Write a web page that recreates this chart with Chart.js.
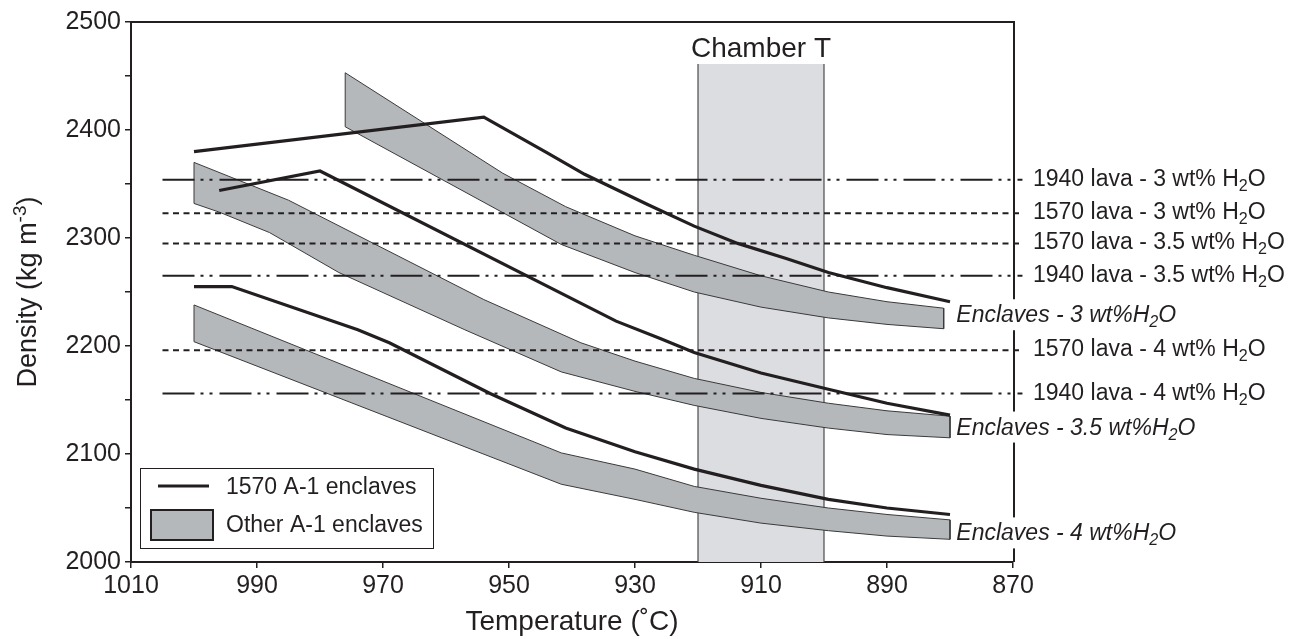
<!DOCTYPE html>
<html>
<head>
<meta charset="utf-8">
<script src="https://cdn.jsdelivr.net/npm/chart.js@4.4.1/dist/chart.umd.min.js"></script>
<style>
  html, body { margin: 0; padding: 0; background: #fff; }
  canvas { display: block; }
</style>
</head>
<body>
<canvas id="chart" width="1301" height="639"></canvas>
<script>
// ---- data (temperature in °C, density in kg/m3) ----
var xTicks = [1010, 990, 970, 950, 930, 910, 890, 870];
var yTicks = [2000, 2100, 2200, 2300, 2400, 2500];

// chamber temperature range
var chamberT = [920, 900];
var chamberTop = 2461;

// 1570 A-1 enclaves (black lines)
var line3wt  = [[1000,2380],[954,2412],[944,2379],[938,2359],[928,2331],[920.6,2311],[913.7,2295],[906,2281],[899.3,2268],[890,2254],[880,2241]];
var line35wt = [[996,2344],[980,2362],[933,2223],[926,2207],[920.6,2194],[910,2175],[899.3,2160],[890,2147],[880,2136]];
var line4wt  = [[1000,2255],[994,2255],[974,2215],[969,2203],[953,2156],[941,2124],[930,2102],[920.6,2086],[910,2071],[899.3,2058],[890,2050],[880,2044]];

// other A-1 enclaves (grey bands: upper and lower edge)
var band3wtUpper  = [[976,2453],[951,2360],[941,2329],[930,2302],[920.6,2284],[910,2265],[899.3,2250],[890,2241],[881,2235]];
var band3wtLower  = [[976,2403],[941.7,2294],[930,2268],[920.6,2250],[910,2236],[899.3,2226],[890,2220],[881,2216]];
var band35wtUpper = [[1000,2370],[985,2335],[954,2243],[938.6,2203],[930,2186],[920.6,2170],[910,2157],[899.3,2147],[890,2140],[880,2135]];
var band35wtLower = [[1000,2332],[996,2324],[988,2305],[977,2268],[957,2215],[941.7,2176],[930,2158],[920.6,2145],[910,2133],[899.3,2124],[890,2118],[880,2115]];
var band4wtUpper  = [[1000,2238],[941.7,2101],[930,2086],[920.6,2070],[910,2059],[899.3,2050],[890,2044],[880,2039]];
var band4wtLower  = [[1000,2204],[941.7,2072],[930,2058],[920.6,2046],[910,2036],[899.3,2029],[890,2024],[880,2021]];

// lava densities (horizontal reference lines)
var lavaNames  = ['1940 lava - 3 wt%', '1570 lava - 3 wt%', '1570 lava - 3.5 wt%', '1940 lava - 3.5 wt%', '1570 lava - 4 wt%', '1940 lava - 4 wt%'];
var lavaValues = [2354, 2323, 2295, 2265, 2196, 2156];
var lavaFrom = 1005, lavaTo = 868.5;

var enclaveNames  = ['Enclaves - 3 wt%', 'Enclaves - 3.5 wt%', 'Enclaves - 4 wt%'];
var enclaveLabelD = [2222, 2118, 2020];
var enclaveLabelT = 879;

var legendNames = ['1570 A-1 enclaves', 'Other A-1 enclaves'];

var ink = '#231f20';
var bandGrey = '#b5b8bb';
var chamberGrey = '#dcdde0';
var FONT = "'Liberation Sans', Arial, Helvetica, sans-serif";

function pts(list) {
  return list.map(function (p) { return { x: p[0], y: p[1] }; });
}

function bandSet(upper, lower) {
  var poly = upper.concat(lower.slice().reverse());
  poly.push(upper[0]);
  return {
    data: pts(poly), fill: 'shape', backgroundColor: bandGrey,
    borderColor: '#3a3a3a', borderWidth: 1, pointRadius: 0, order: 3
  };
}

function enclaveSet(list) {
  return {
    data: pts(list), fill: false, borderColor: ink, borderWidth: 3.2,
    pointRadius: 0, borderJoinStyle: 'miter', order: 2
  };
}

var datasets = [];

// chamber T box: grey fill, then its two vertical sides
datasets.push({
  data: [{x: chamberT[0], y: 2000}, {x: chamberT[0], y: chamberTop}, {x: chamberT[1], y: chamberTop}, {x: chamberT[1], y: 2000}],
  fill: 'shape', backgroundColor: chamberGrey, borderWidth: 0, borderColor: 'rgba(0,0,0,0)', pointRadius: 0, order: 6
});
chamberT.forEach(function (t) {
  datasets.push({
    data: [{x: t, y: 2000}, {x: t, y: chamberTop}],
    fill: false, borderColor: '#4a4a4a', borderWidth: 1.2, pointRadius: 0, order: 5
  });
});

datasets.push(bandSet(band3wtUpper, band3wtLower));
datasets.push(bandSet(band35wtUpper, band35wtLower));
datasets.push(bandSet(band4wtUpper, band4wtLower));
datasets.push(enclaveSet(line3wt));
datasets.push(enclaveSet(line35wt));
datasets.push(enclaveSet(line4wt));

lavaValues.forEach(function (v, i) {
  var is1940 = lavaNames[i].indexOf('1940') === 0;
  datasets.push({
    data: [{x: lavaFrom, y: v}, {x: lavaTo, y: v}],
    fill: false, borderColor: ink, borderWidth: 2, pointRadius: 0,
    borderDash: is1940 ? [32, 6, 3, 6, 3, 7] : [6, 4.5],
    clip: false, order: 1
  });
});

// draw text containing a subscript/superscript part
function richText(ctx, x, y, parts, size, style) {
  var cx = x;
  parts.forEach(function (p) {
    var s = p[1] ? size * 0.7 : size;
    ctx.font = style + s + 'px ' + FONT;
    var dy = p[1] === 'sub' ? size * 0.22 : (p[1] === 'sup' ? -size * 0.38 : 0);
    ctx.fillText(p[0], cx, y + dy);
    cx += ctx.measureText(p[0]).width;
  });
  return cx - x;
}
function richWidth(ctx, parts, size, style) {
  var w = 0;
  parts.forEach(function (p) {
    ctx.font = style + (p[1] ? size * 0.7 : size) + 'px ' + FONT;
    w += ctx.measureText(p[0]).width;
  });
  return w;
}

var overlay = {
  id: 'overlay',
  afterDraw: function (chart) {
    var ctx = chart.ctx, a = chart.chartArea;
    var xs = chart.scales.x, ys = chart.scales.y;
    ctx.save();

    // top and right frame
    ctx.strokeStyle = ink;
    ctx.lineWidth = 2;
    ctx.beginPath();
    ctx.moveTo(a.left - 1, a.top);
    ctx.lineTo(a.right + 1, a.top);
    ctx.lineTo(a.right + 1, a.bottom);
    ctx.stroke();

    ctx.fillStyle = ink;
    ctx.textAlign = 'left';
    ctx.textBaseline = 'alphabetic';

    // Chamber T
    ctx.font = '28px ' + FONT;
    ctx.textAlign = 'center';
    ctx.fillText('Chamber T', xs.getPixelForValue((chamberT[0] + chamberT[1]) / 2), 57);
    ctx.textAlign = 'left';

    // lava labels
    lavaNames.forEach(function (n, i) {
      var y = ys.getPixelForValue(lavaValues[i]) + 6;
      richText(ctx, 1033, y, [[n + ' H', ''], ['2', 'sub'], ['O', '']], 23, '');
    });

    // enclave labels (white behind, they break the frame)
    enclaveNames.forEach(function (n, i) {
      var y = ys.getPixelForValue(enclaveLabelD[i]);
      var x = xs.getPixelForValue(enclaveLabelT);
      var parts = [[n + 'H', ''], ['2', 'sub'], ['O', '']];
      var w = richWidth(ctx, parts, 23, 'italic ');
      ctx.fillStyle = '#fff';
      ctx.fillRect(x - 2, y - 23, w + 4, 31);
      ctx.fillStyle = ink;
      richText(ctx, x, y, parts, 23, 'italic ');
    });

    // y axis title with superscript
    ctx.save();
    ctx.translate(36, (a.top + a.bottom) / 2);
    ctx.rotate(-Math.PI / 2);
    var yParts = [['Density (kg m', ''], ['-3', 'sup'], [')', '']];
    var yw = richWidth(ctx, yParts, 27, '');
    richText(ctx, -yw / 2, 0, yParts, 27, '');
    ctx.restore();

    // legend
    ctx.lineWidth = 1;
    ctx.strokeStyle = ink;
    ctx.fillStyle = '#fff';
    ctx.fillRect(140, 468, 293, 80);
    ctx.strokeRect(140.5, 468.5, 293, 80);
    ctx.lineWidth = 3.2;
    ctx.beginPath();
    ctx.moveTo(158, 486);
    ctx.lineTo(209, 486);
    ctx.stroke();
    ctx.fillStyle = bandGrey;
    ctx.fillRect(151, 510, 62, 30);
    ctx.lineWidth = 2;
    ctx.strokeRect(151, 510, 62, 30);
    ctx.fillStyle = ink;
    ctx.font = '23px ' + FONT;
    ctx.fillText(legendNames[0], 226, 494);
    ctx.fillText(legendNames[1], 226, 532);

    ctx.restore();
  }
};

Chart.defaults.font.family = FONT;
Chart.defaults.color = ink;

new Chart(document.getElementById('chart'), {
  type: 'line',
  data: { datasets: datasets },
  options: {
    responsive: false,
    animation: false,
    events: [],
    layout: { padding: { left: 0, right: 288, top: 22, bottom: 0 } },
    plugins: { legend: { display: false }, tooltip: { enabled: false } },
    scales: {
      x: {
        type: 'linear', reverse: true, min: 870, max: 1010,
        afterFit: function (s) { s.height = 77; },
        afterBuildTicks: function (s) { s.ticks = xTicks.map(function (v) { return { value: v }; }); },
        ticks: {
          autoSkip: false, maxRotation: 0, padding: 3, color: ink, font: { size: 25 },
          callback: function (v) { return String(v); }
        },
        grid: { drawOnChartArea: false, drawTicks: true, tickLength: 6, color: ink, lineWidth: 1.5 },
        border: { display: true, color: ink, width: 2 },
        title: { display: true, text: 'Temperature (˚C)', color: ink, font: { size: 28 }, padding: { top: 0, bottom: 0 } }
      },
      y: {
        type: 'linear', min: 2000, max: 2500,
        afterFit: function (s) { s.width = 131; },
        ticks: {
          stepSize: 50, autoSkip: false, padding: 4, color: ink, font: { size: 25 },
          callback: function (v) { return yTicks.indexOf(v) >= 0 ? String(v) : ''; }
        },
        grid: { drawOnChartArea: false, drawTicks: true, tickLength: 6, color: ink, lineWidth: 1.5 },
        border: { display: true, color: ink, width: 2 }
      }
    }
  },
  plugins: [overlay]
});
</script>
</body>
</html>
